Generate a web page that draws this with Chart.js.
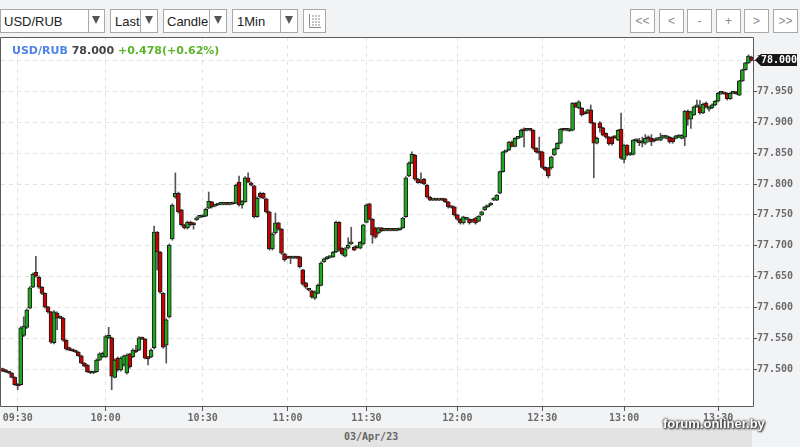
<!DOCTYPE html>
<html><head><meta charset="utf-8">
<script src="https://cdn.jsdelivr.net/npm/chart.js@4/dist/chart.umd.min.js"></script>
<style>
html,body{margin:0;padding:0;width:800px;height:447px;overflow:hidden;background:#f2f3f5;position:relative;font-family:"Liberation Sans",Arial,sans-serif}
.dd{position:absolute;top:9px;height:24px;background:#fff;border:1px solid #a8a8a8;box-sizing:border-box}
.tx{position:absolute;top:4px;left:3px;font-size:13px;line-height:15px;color:#222;white-space:nowrap;overflow:hidden}
.dv{position:absolute;top:0;bottom:0;width:0;border-left:1px solid #a8a8a8}
.ar{position:absolute;top:6px;width:0;height:0;border-left:4px solid transparent;border-right:4px solid transparent;border-top:8px solid #555}
.btn{position:absolute;top:9px;width:25px;height:24px;box-sizing:border-box;border:1px solid #a8a8a8;background:#fff;color:#8a8a8a;font-size:12px;text-align:center;line-height:22px}
#band{position:absolute;left:0;top:428px;width:752px;height:19px;background:#e3e3e3}
#date{position:absolute;left:344px;top:431px;font:bold 10px "DejaVu Sans Mono",monospace;color:#666;line-height:12px}
#cv{position:absolute;left:0;top:0}
#hdr{position:absolute;left:12px;top:44px;font:bold 11px "DejaVu Sans",sans-serif;line-height:13px;white-space:nowrap;z-index:3}
#wm{position:absolute;left:663px;top:416px;font:bold 13px "Liberation Sans",Arial,sans-serif;color:#fff;line-height:15px;z-index:4;text-shadow:0 0 2px #222,0 0 3px #333,1px 1px 2px #333}
</style></head>
<body>
<div class="dd" style="left:0;width:105px"><span class="tx" style="width:84px">USD/RUB</span><div class="dv" style="left:87px"></div><div class="ar" style="left:91px"></div></div>
<div class="dd" style="left:110px;width:48px"><span class="tx" style="left:4px;width:25px">Last</span><div class="dv" style="left:29px"></div><div class="ar" style="left:34px"></div></div>
<div class="dd" style="left:163px;width:64px"><span class="tx" style="width:42px">Candle</span><div class="dv" style="left:45px"></div><div class="ar" style="left:50px"></div></div>
<div class="dd" style="left:232px;width:66px"><span class="tx" style="left:4px;width:40px">1Min</span><div class="dv" style="left:47px"></div><div class="ar" style="left:52px"></div></div>
<div class="dd" style="left:303px;width:23px"><svg width="21" height="22" style="position:absolute;left:0;top:0"><g stroke="#8a8a8a" stroke-width="1" fill="none"><path d="M5.5 4v13.5H17"/><path d="M8 6h2M11 6h2M14 6h2M8 9h2M11 9h2M14 9h2M8 12h2M11 12h2M14 12h2M8 15h2M11 15h2M14 15h2"/></g></svg></div>
<div class="btn" style="left:630px">&lt;&lt;</div>
<div class="btn" style="left:659px">&lt;</div>
<div class="btn" style="left:687px">-</div>
<div class="btn" style="left:716px">+</div>
<div class="btn" style="left:744px">&gt;</div>
<div class="btn" style="left:773px">&gt;&gt;</div>
<div id="band"></div>
<div id="date">03/Apr/23</div>
<canvas id="cv" width="800" height="447"></canvas>
<div id="hdr"><span style="color:#4f82ea">USD/RUB</span> <span style="color:#444">78.000</span> <span style="color:#5bb52c">+0.478(+0.62%)</span></div>
<div id="wm">forum.onliner.by</div>
<script>
// 1-minute candles, USD/RUB, 03/Apr/23
const open = [
77.501,77.499,77.496,77.494,77.487,77.476,77.475,77.555,77.568,77.599,
77.633,77.657,77.649,77.633,77.623,77.601,77.593,77.543,77.591,77.585,
77.583,77.547,77.535,77.531,77.530,77.528,77.522,77.510,77.507,77.496,
77.494,77.496,77.515,77.520,77.520,77.551,77.551,77.487,77.518,77.499,
77.507,77.494,77.525,77.520,77.531,77.531,77.551,77.549,77.520,77.520,
77.535,77.722,77.690,77.623,77.539,77.585,77.711,77.779,77.785,77.758,
77.734,77.729,77.738,77.737,77.742,77.746,77.747,77.748,77.761,77.771,
77.764,77.766,77.767,77.767,77.768,77.767,77.768,77.769,77.803,77.766,
77.771,77.810,77.802,77.797,77.747,77.785,77.785,77.776,77.755,77.695,
77.721,77.737,77.727,77.687,77.682,77.682,77.680,77.682,77.682,77.661,
77.640,77.630,77.627,77.615,77.623,77.636,77.674,77.679,77.681,77.682,
77.690,77.738,77.696,77.683,77.696,77.703,77.698,77.697,77.696,77.703,
77.738,77.768,77.743,77.729,77.721,77.729,77.725,77.726,77.725,77.726,
77.725,77.726,77.729,77.747,77.813,77.834,77.847,77.808,77.805,77.808,
77.798,77.779,77.774,77.775,77.774,77.775,77.776,77.771,77.763,77.763,
77.750,77.743,77.737,77.743,77.743,77.742,77.745,77.740,77.750,77.758,
77.763,77.766,77.774,77.774,77.785,77.820,77.852,77.855,77.868,77.861,
77.874,77.876,77.887,77.887,77.888,77.887,77.858,77.852,77.852,77.827,
77.826,77.826,77.847,77.857,77.866,77.888,77.887,77.886,77.887,77.931,
77.923,77.923,77.915,77.915,77.920,77.899,77.866,77.899,77.891,77.882,
77.876,77.876,77.876,77.871,77.889,77.840,77.863,77.847,77.848,77.870,
77.868,77.866,77.866,77.874,77.874,77.871,77.872,77.871,77.876,77.874,
77.876,77.874,77.874,77.876,77.874,77.876,77.918,77.905,77.912,77.925,
77.925,77.915,77.931,77.921,77.923,77.928,77.934,77.947,77.947,77.947,
77.938,77.947,77.949,77.944,77.967,77.985,77.996,78.005];
const high = [
77.502,77.500,77.497,77.495,77.488,77.477,77.569,77.585,77.598,77.634,
77.656,77.683,77.651,77.634,77.624,77.602,77.594,77.595,77.593,77.586,
77.584,77.548,77.536,77.532,77.531,77.529,77.523,77.511,77.508,77.497,
77.497,77.517,77.527,77.528,77.555,77.568,77.552,77.517,77.520,77.520,
77.523,77.525,77.526,77.533,77.539,77.553,77.552,77.550,77.521,77.533,
77.732,77.723,77.691,77.624,77.582,77.703,77.768,77.818,77.787,77.759,
77.735,77.740,77.740,77.738,77.747,77.748,77.750,77.761,77.787,77.772,
77.767,77.768,77.768,77.769,77.769,77.769,77.770,77.800,77.813,77.773,
77.812,77.818,77.803,77.798,77.779,77.787,77.786,77.777,77.756,77.721,
77.753,77.738,77.728,77.688,77.683,77.683,77.683,77.683,77.683,77.662,
77.641,77.631,77.628,77.627,77.638,77.674,77.680,77.683,77.683,77.691,
77.740,77.739,77.697,77.697,77.713,77.730,77.699,77.699,77.707,77.735,
77.768,77.769,77.744,77.730,77.730,77.730,77.727,77.727,77.727,77.727,
77.728,77.728,77.746,77.812,77.836,77.852,77.848,77.809,77.818,77.809,
77.799,77.780,77.776,77.776,77.776,77.776,77.777,77.772,77.764,77.764,
77.751,77.744,77.748,77.745,77.744,77.743,77.746,77.749,77.756,77.764,
77.765,77.770,77.778,77.783,77.821,77.853,77.854,77.869,77.870,77.875,
77.876,77.889,77.891,77.889,77.889,77.888,77.859,77.876,77.853,77.828,
77.827,77.845,77.858,77.867,77.890,77.890,77.889,77.890,77.932,77.932,
77.935,77.924,77.916,77.921,77.928,77.900,77.876,77.901,77.892,77.883,
77.877,77.877,77.877,77.888,77.915,77.864,77.864,77.851,77.872,77.873,
77.874,77.876,77.880,77.878,77.880,77.873,77.874,77.882,77.878,77.879,
77.877,77.875,77.879,77.880,77.880,77.919,77.920,77.918,77.926,77.936,
77.935,77.931,77.933,77.926,77.930,77.935,77.949,77.950,77.948,77.948,
77.948,77.949,77.950,77.968,77.986,77.997,78.009,78.007];
const low = [
77.496,77.495,77.493,77.486,77.474,77.467,77.474,77.553,77.566,77.598,
77.632,77.649,77.631,77.621,77.599,77.591,77.542,77.541,77.564,77.582,
77.545,77.531,77.530,77.529,77.527,77.521,77.509,77.504,77.495,77.493,
77.493,77.495,77.514,77.519,77.519,77.550,77.467,77.486,77.497,77.497,
77.505,77.492,77.502,77.519,77.527,77.530,77.548,77.517,77.507,77.519,
77.533,77.661,77.623,77.534,77.510,77.583,77.709,77.777,77.753,77.732,
77.727,77.727,77.732,77.727,77.741,77.745,77.746,77.747,77.760,77.761,
77.763,77.765,77.766,77.766,77.766,77.766,77.767,77.768,77.764,77.761,
77.770,77.802,77.797,77.745,77.746,77.777,77.776,77.753,77.693,77.693,
77.719,77.725,77.686,77.675,77.679,77.671,77.679,77.679,77.664,77.636,
77.631,77.627,77.615,77.613,77.622,77.635,77.673,77.678,77.680,77.681,
77.689,77.691,77.685,77.682,77.695,77.702,77.692,77.696,77.695,77.702,
77.737,77.742,77.704,77.712,77.719,77.723,77.724,77.724,77.724,77.724,
77.724,77.725,77.728,77.746,77.812,77.833,77.806,77.801,77.801,77.799,
77.777,77.773,77.773,77.773,77.773,77.773,77.770,77.761,77.761,77.748,
77.741,77.735,77.735,77.742,77.735,77.738,77.735,77.739,77.749,77.757,
77.762,77.765,77.773,77.773,77.784,77.819,77.851,77.854,77.860,77.860,
77.873,77.875,77.860,77.886,77.886,77.856,77.850,77.839,77.825,77.821,
77.810,77.824,77.846,77.856,77.865,77.886,77.886,77.885,77.886,77.924,
77.922,77.910,77.913,77.914,77.898,77.810,77.865,77.884,77.878,77.874,
77.863,77.863,77.874,77.870,77.840,77.834,77.845,77.846,77.847,77.868,
77.862,77.860,77.864,77.868,77.862,77.868,77.870,77.870,77.874,77.873,
77.866,77.866,77.873,77.875,77.873,77.862,77.895,77.890,77.911,77.924,
77.913,77.914,77.923,77.918,77.922,77.927,77.933,77.945,77.945,77.936,
77.937,77.946,77.945,77.943,77.966,77.984,77.995,77.999];
const close = [
77.497,77.496,77.494,77.487,77.475,77.473,77.567,77.570,77.596,77.632,
77.654,77.651,77.633,77.623,77.601,77.593,77.544,77.593,77.583,77.583,
77.547,77.533,77.531,77.530,77.528,77.522,77.510,77.505,77.496,77.494,
77.496,77.515,77.525,77.526,77.553,77.555,77.489,77.515,77.499,77.518,
77.522,77.523,77.504,77.531,77.528,77.551,77.549,77.518,77.517,77.531,
77.722,77.690,77.625,77.536,77.580,77.701,77.766,77.785,77.755,77.734,
77.729,77.738,77.734,77.734,77.745,77.747,77.748,77.759,77.772,77.763,
77.766,77.767,77.767,77.768,77.767,77.768,77.769,77.798,77.766,77.772,
77.810,77.803,77.798,77.747,77.777,77.779,77.777,77.755,77.695,77.719,
77.737,77.727,77.688,77.677,77.680,77.680,77.682,77.680,77.666,77.638,
77.633,77.628,77.617,77.625,77.636,77.672,77.679,77.682,77.682,77.690,
77.738,77.693,77.687,77.695,77.701,77.704,77.693,77.698,77.706,77.734,
77.766,77.743,77.717,77.714,77.729,77.724,77.726,77.725,77.726,77.725,
77.727,77.727,77.745,77.810,77.834,77.848,77.808,77.802,77.802,77.800,
77.779,77.774,77.775,77.774,77.775,77.774,77.771,77.763,77.762,77.750,
77.743,77.737,77.747,77.744,77.737,77.740,77.737,77.748,77.755,77.763,
77.764,77.769,77.777,77.782,77.820,77.852,77.853,77.868,77.861,77.874,
77.875,77.887,77.886,77.888,77.887,77.858,77.852,77.850,77.827,77.823,
77.813,77.844,77.857,77.866,77.889,77.887,77.888,77.889,77.931,77.925,
77.933,77.912,77.914,77.920,77.899,77.866,77.874,77.891,77.879,77.876,
77.865,77.865,77.875,77.887,77.842,77.863,77.847,77.850,77.871,77.871,
77.867,77.867,77.874,77.873,77.868,77.870,77.873,77.876,77.877,77.878,
77.868,77.868,77.878,77.879,77.879,77.918,77.905,77.917,77.925,77.926,
77.915,77.929,77.925,77.925,77.928,77.934,77.947,77.948,77.946,77.938,
77.947,77.948,77.946,77.967,77.985,77.996,78.007,78.000];

// x-axis tick labels and the candle index where each one sits
const timeLabels = ['09:30','10:00','10:30','11:00','11:30','12:00','12:30','13:00','13:30'];
const timeIndex  = [5, 34, 66, 94, 120, 150, 178, 205, 236];
// y-axis price ticks
const priceTicks = [77.50,77.55,77.60,77.65,77.70,77.75,77.80,77.85,77.90,77.95,78.00];
const priceMin = 77.439, priceMax = 78.038;

const UP = '#1fa71f', DOWN = '#c90000', EDGE = '#1c1c1c', WICK = '#555555';
const idx = open.map((_, i) => i);
const lastPrice = close[close.length - 1];

const framePlugin = {
  id: 'frame',
  beforeDraw(chart) {
    const a = chart.chartArea, c = chart.ctx;
    c.save(); c.fillStyle = '#ffffff';
    c.fillRect(a.left, a.top, a.right - a.left, a.bottom - a.top);
    c.restore();
  },
  afterDraw(chart) {
    const a = chart.chartArea, c = chart.ctx;
    c.save();
    c.strokeStyle = '#5a5a5a'; c.lineWidth = 1;
    c.beginPath();
    c.moveTo(a.left - 0.5, a.bottom - 0.5); c.lineTo(a.left - 0.5, a.top + 0.5);
    c.lineTo(a.right + 0.5, a.top + 0.5); c.lineTo(a.right + 0.5, a.bottom - 0.5);
    c.lineTo(a.left - 0.5, a.bottom - 0.5);
    c.stroke();
    // last price marker
    const y = Math.round(chart.scales.y.getPixelForValue(lastPrice));
    const x0 = a.right + 2;
    c.fillStyle = '#161616';
    c.beginPath();
    c.moveTo(x0, y); c.lineTo(x0 + 6, y - 6); c.lineTo(797, y - 6); c.lineTo(797, y + 6);
    c.lineTo(x0 + 6, y + 6); c.closePath(); c.fill();
    c.fillStyle = '#ffffff';
    c.font = 'bold 10px "DejaVu Sans Mono"';
    c.textBaseline = 'middle'; c.textAlign = 'left';
    c.fillText(lastPrice.toFixed(3), x0 + 6, y + 0.5);
    c.restore();
  }
};

const axisFont = { family: 'DejaVu Sans Mono', size: 10, weight: 'bold' };

new Chart(document.getElementById('cv').getContext('2d'), {
  type: 'bar',
  data: {
    datasets: [
      {
        label: 'wick',
        data: idx.map(i => ({ x: i, y: [low[i], high[i]] })),
        backgroundColor: WICK,
        barThickness: 1,
        grouped: false,
        order: 2
      },
      {
        label: 'body',
        data: idx.map(i => ({ x: i, y: [open[i], close[i]] })),
        backgroundColor: idx.map(i => close[i] >= open[i] ? UP : DOWN),
        borderColor: EDGE,
        borderWidth: 1,
        borderSkipped: false,
        barThickness: 4,
        minBarLength: 2,
        grouped: false,
        order: 1
      }
    ]
  },
  options: {
    responsive: false,
    animation: false,
    events: [],
    layout: { padding: { top: 37, left: 1, right: 0, bottom: 0 } },
    plugins: { legend: { display: false }, tooltip: { enabled: false } },
    scales: {
      x: {
        type: 'linear',
        min: -0.5,
        max: open.length - 0.5,
        offset: false,
        afterBuildTicks: s => { s.ticks = timeIndex.map(v => ({ value: v })); },
        afterFit: s => { s.height = 40; },
        ticks: {
          autoSkip: false, maxRotation: 0, padding: 1,
          color: '#6a6a6a', font: axisFont,
          callback: v => timeLabels[timeIndex.indexOf(v)]
        },
        grid: { offset: false, color: '#e3e3e3', tickColor: '#555', tickLength: 4 },
        border: { display: false, dash: [4, 4] }
      },
      y: {
        position: 'right',
        min: priceMin,
        max: priceMax,
        afterBuildTicks: s => { s.ticks = priceTicks.map(v => ({ value: v })); },
        afterFit: s => { s.width = 47; },
        ticks: {
          padding: 0, color: '#6a6a6a', font: axisFont,
          callback: v => v.toFixed(3)
        },
        grid: { color: '#e3e3e3', tickColor: '#555', tickLength: 4 },
        border: { display: false, dash: [4, 4] }
      }
    }
  },
  plugins: [framePlugin]
});
</script>
</body></html>
